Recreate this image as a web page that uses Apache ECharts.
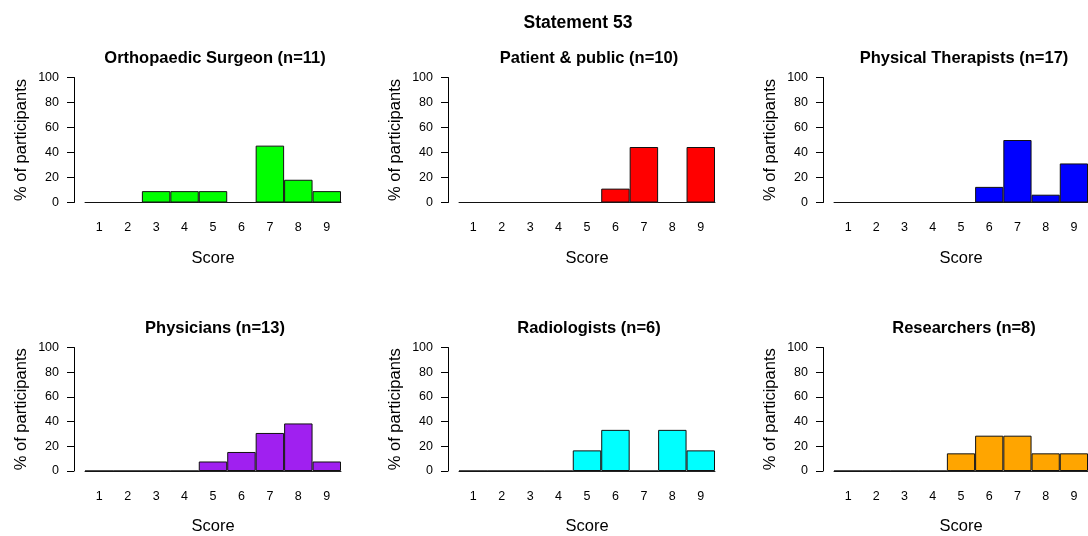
<!DOCTYPE html>
<html>
<head>
<meta charset="utf-8">
<script src="https://cdn.jsdelivr.net/npm/echarts@6/dist/echarts.min.js"></script>
<style>
  html, body { margin: 0; padding: 0; background: #fff; }
  #chart { width: 1088px; height: 536px; }
</style>
</head>
<body>
<div id="chart"></div>
<script>
// Score categories on the x axis
const scores = ['1', '2', '3', '4', '5', '6', '7', '8', '9'];
const yTicks = [0, 20, 40, 60, 80, 100];

// Panel titles (stakeholder group and group size)
const groupTitles = [
  'Orthopaedic Surgeon (n=11)',
  'Patient & public (n=10)',
  'Physical Therapists (n=17)',
  'Physicians (n=13)',
  'Radiologists (n=6)',
  'Researchers (n=8)'
];

// % of participants giving each score, per group
const orthopaedic  = [0, 0, 9.1, 9.1, 9.1, 0, 45.5, 18.2, 9.1];
const patient      = [0, 0, 0, 0, 0, 11.1, 44.4, 0, 44.4];
const physio       = [0, 0, 0, 0, 0, 12.5, 50, 6.25, 31.25];
const physicians   = [0, 0, 0, 0, 7.7, 15.4, 30.8, 38.5, 7.7];
const radiologists = [0, 0, 0, 0, 16.7, 33.3, 0, 33.3, 16.7];
const researchers  = [0, 0, 0, 0, 14.3, 28.6, 28.6, 14.3, 14.3];

const groupValues = [orthopaedic, patient, physio, physicians, radiologists, researchers];

// Fill colour for each panel
const panelColors = ['#00FF00', '#FF0000', '#0000FF', '#A020F0', '#00FFFF', '#FFA500'];

const FONT = '"Liberation Sans", Arial, Helvetica, sans-serif';
const colLeft = [85, 459, 834];
const rowTop = [77.5, 347.5];
const plotW = 256, plotH = 125;
const TITLE_PAD = 5; // default padding of an ECharts title box

const grids = [], xAxes = [], yAxes = [], series = [];
const titles = [{
  text: 'Statement 53',
  left: 578 - TITLE_PAD, top: 14 - TITLE_PAD, textAlign: 'center',
  textStyle: { fontFamily: FONT, fontSize: 17.5, fontWeight: 'bold', color: '#000' }
}];

groupValues.forEach((vals, i) => {
  const col = i % 3, row = Math.floor(i / 3);
  grids.push({ left: colLeft[col], top: rowTop[row], width: plotW, height: plotH, containLabel: false });
  titles.push({
    text: groupTitles[i],
    left: colLeft[col] + plotW / 2 + 2 - TITLE_PAD, top: rowTop[row] - 32.5, textAlign: 'center',
    textStyle: { fontFamily: FONT, fontSize: 16.5, fontWeight: 'bold', color: '#000' }
  });
  xAxes.push({
    type: 'category', gridIndex: i, data: scores,
    name: 'Score', nameLocation: 'middle', nameGap: 47,
    nameTextStyle: { fontFamily: FONT, fontSize: 16.5, color: '#000' },
    axisLine: { show: true, lineStyle: { color: '#222', width: 1 } },
    axisTick: { show: false },
    axisLabel: { fontFamily: FONT, fontSize: 12.5, color: '#000', margin: 19 },
    splitLine: { show: false }
  });
  yAxes.push({
    type: 'value', gridIndex: i, min: yTicks[0], max: yTicks[yTicks.length - 1],
    interval: yTicks[1] - yTicks[0], offset: 11,
    name: '% of participants', nameLocation: 'middle', nameGap: 44, nameRotate: 90,
    nameTextStyle: { fontFamily: FONT, fontSize: 16.5, color: '#000' },
    axisLine: { show: true, lineStyle: { color: '#000', width: 1 } },
    axisTick: { show: true, inside: false, length: 7, lineStyle: { color: '#000' } },
    axisLabel: { fontFamily: FONT, fontSize: 12.5, color: '#000', margin: 15 },
    splitLine: { show: false }
  });
  series.push({
    type: 'bar', xAxisIndex: i, yAxisIndex: i, data: vals,
    barWidth: '100%', barCategoryGap: 0,
    itemStyle: { color: panelColors[i], borderColor: '#111', borderWidth: 1 },
    emphasis: { disabled: true },
    animation: false
  });
});

const chart = echarts.init(document.getElementById('chart'), null, { renderer: 'canvas' });
chart.setOption({
  backgroundColor: '#fff',
  animation: false,
  title: titles,
  grid: grids,
  xAxis: xAxes,
  yAxis: yAxes,
  series: series
});
</script>
</body>
</html>
